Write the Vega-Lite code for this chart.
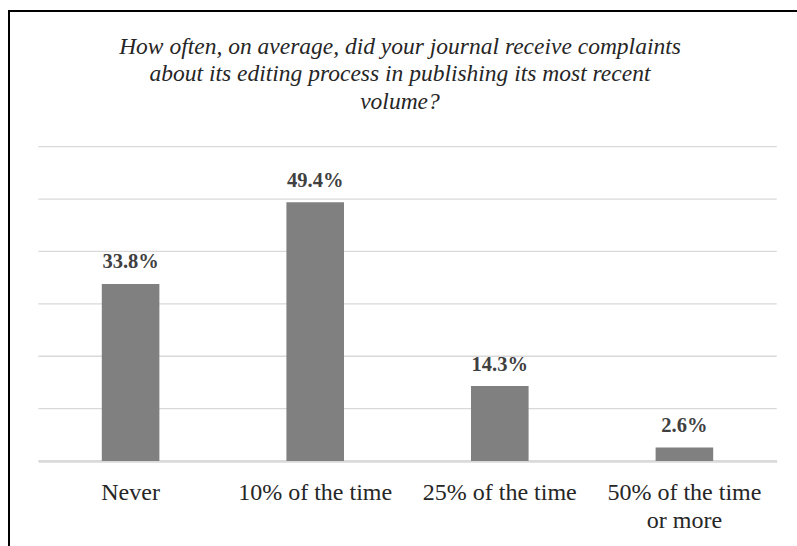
{
  "$schema": "https://vega.github.io/schema/vega-lite/v6.json",
  "width": 788,
  "height": 535,
  "autosize": {"type": "none"},
  "padding": {"left": 9, "top": 11, "right": 0, "bottom": 0},
  "background": "white",
  "config": {
    "view": {"stroke": "black", "strokeWidth": 2, "strokeDash": [788, 1323, 535]},
    "font": "'Liberation Serif', 'Times New Roman', Times, serif"
  },
  "title": {
    "text": ["How often, on average, did your journal receive complaints", "about its editing process in publishing its most recent", "volume?"],
    "font": "'Liberation Serif', 'Times New Roman', Times, serif",
    "fontStyle": "italic",
    "fontWeight": "normal",
    "fontSize": 23.5,
    "color": "#262626",
    "anchor": "middle",
    "frame": "group",
    "offset": -102,
    "lineHeight": 27.5,
    "dx": -3
  },
  "datasets": {
    "grid": [{"g": 0}, {"g": 10}, {"g": 20}, {"g": 30}, {"g": 40}, {"g": 50}, {"g": 60}],
    "bars": [
      {"cat": "Never", "pct": 33.8, "label": "33.8%"},
      {"cat": "10% of the time", "pct": 49.4, "label": "49.4%"},
      {"cat": "25% of the time", "pct": 14.3, "label": "14.3%"},
      {"cat": "50% of the time or more", "pct": 2.6, "label": "2.6%"}
    ]
  },
  "layer": [
    {
      "data": {"name": "grid"},
      "mark": {"type": "rule", "color": "#d9d9d9", "strokeWidth": 1.3},
      "encoding": {
        "y": {"field": "g", "type": "quantitative", "scale": {"domain": [0, 60], "range": [450, 135.7], "nice": false}, "axis": null},
        "x": {"datum": 0, "type": "quantitative", "scale": {"domain": [0, 1], "range": [29.3, 767.7]}, "axis": null},
        "x2": {"datum": 1}
      }
    },
    {
      "data": {"name": "bars"},
      "layer": [
        {
          "mark": {"type": "bar", "color": "#808080", "width": {"band": 0.312}},
          "encoding": {
            "x": {
              "field": "cat", "type": "nominal", "sort": null,
              "scale": {"range": [29.3, 767.7], "paddingInner": 0, "paddingOuter": 0},
              "axis": {
                "orient": "bottom", "offset": -85, "title": null, "ticks": false,
                "domainColor": "#d9d9d9", "domainWidth": 2.4,
                "labelAngle": 0, "labelPadding": 19, "labelFontSize": 24,
                "labelFont": "'Liberation Serif', 'Times New Roman', Times, serif", "labelColor": "#262626",
                "labelLineHeight": 28, "labelLimit": 0, "labelOverlap": false,
                "labelExpr": "datum.value == '50% of the time or more' ? ['50% of the time', 'or more'] : datum.value"
              }
            },
            "y": {"field": "pct", "type": "quantitative", "scale": {"domain": [0, 60], "range": [450, 135.7], "nice": false}}
          }
        },
        {
          "mark": {"type": "text", "dy": -15.5, "baseline": "alphabetic", "fontWeight": "bold", "fontSize": 20.5, "color": "#404040", "font": "'Liberation Serif', 'Times New Roman', Times, serif"},
          "encoding": {
            "x": {"field": "cat", "type": "nominal", "sort": null},
            "y": {"field": "pct", "type": "quantitative"},
            "text": {"field": "label"}
          }
        }
      ]
    }
  ],
  "resolve": {"scale": {"x": "independent"}}
}
